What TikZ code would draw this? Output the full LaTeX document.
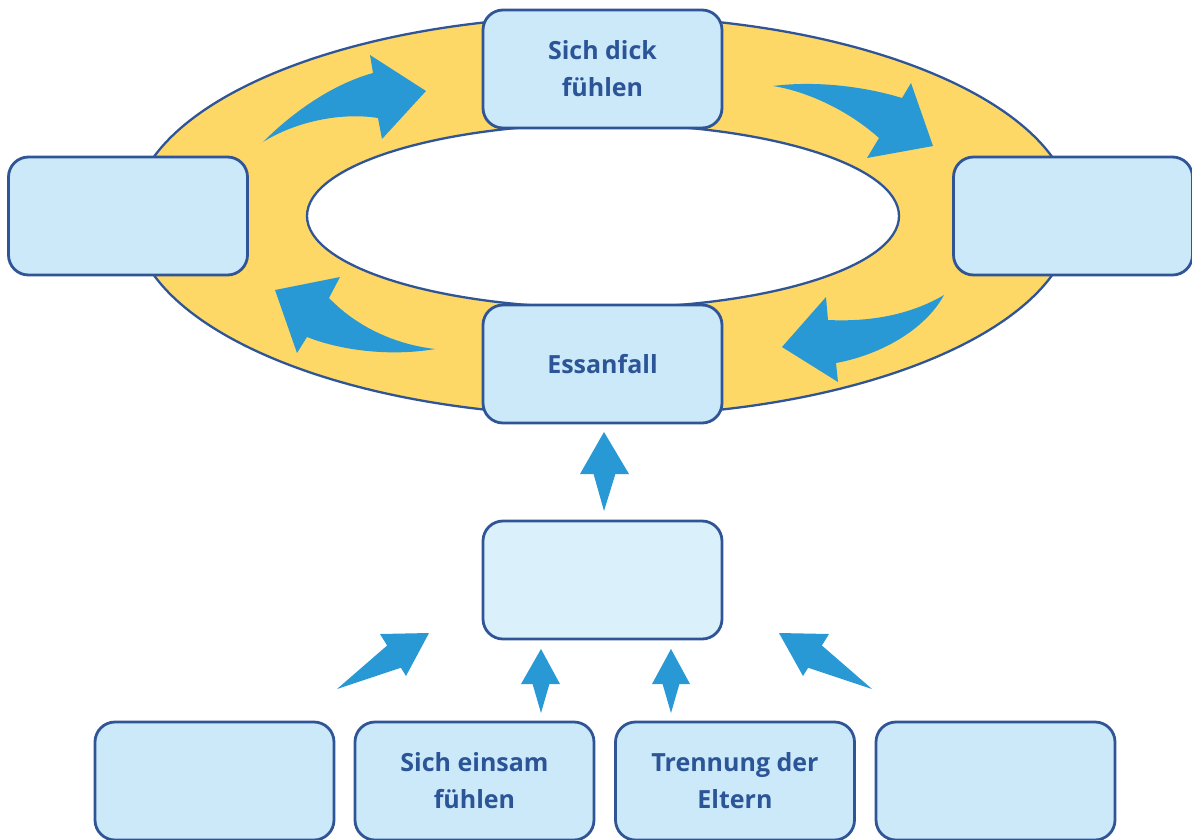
\documentclass[tikz,border=0pt]{standalone}
\usepackage{fontspec}
\setmainfont{Open Sans}
\definecolor{ring}{HTML}{FDD866}
\definecolor{edge}{HTML}{2F5597}
\definecolor{boxfill}{HTML}{CCE9F9}
\definecolor{boxlight}{HTML}{DAF0FA}
\definecolor{arrowblue}{HTML}{2899D5}
\definecolor{txt}{HTML}{2B5597}
\tikzset{
  stepbox/.style={draw=edge, line width=2.8pt, fill=boxfill, rounded corners=20pt,
    minimum width=239pt, minimum height=118pt, inner sep=0pt,
    font=\fontsize{25}{37}\selectfont\bfseries, text=txt, align=center},
  blockarrow/.style={fill=arrowblue, draw=none}
}
\begin{document}
\begin{tikzpicture}[x=1pt, y=-1pt]
\useasboundingbox (0,0) rectangle (1192,839);
% ring
\filldraw[fill=ring, draw=edge, line width=2.3pt] (603,216) ellipse [x radius=470, y radius=200];
\filldraw[fill=white, draw=edge, line width=2.3pt] (603,216) ellipse [x radius=296, y radius=92];
% curved arrows around the ring
\fill[blockarrow] (263,142) .. controls (300,105) and (340,82) .. (373,73) -- (370,55) -- (426,91)
  -- (382,139) -- (378,118) .. controls (340,112) and (295,122) .. (263,142) -- cycle;
\fill[blockarrow] (773,86) .. controls (820,80) and (870,88) .. (902,98) -- (911,83) -- (933,146)
  -- (867,158) -- (879,138) .. controls (850,112) and (810,92) .. (773,86) -- cycle;
\fill[blockarrow] (944,295) .. controls (910,315) and (870,322) .. (828,320) -- (826,297) -- (782,347)
  -- (838,382) -- (836,363) .. controls (880,355) and (925,330) .. (944,295) -- cycle;
\fill[blockarrow] (435,349) .. controls (400,345) and (360,330) .. (329,298) -- (340,277) -- (275,290)
  -- (297,353) -- (307,337) .. controls (345,352) and (395,356) .. (435,349) -- cycle;
% boxes
\node[stepbox] (top) at (602.5,69) {Sich dick\\fühlen};
\node[stepbox] (left) at (128,216) {};
\node[stepbox] (right) at (1073,216) {};
\node[stepbox] (binge) at (602.5,364) {Essanfall};
\node[stepbox, fill=boxlight] (mid) at (602.5,580) {};
\node[stepbox] (c1) at (214.5,781) {};
\node[stepbox] (c2) at (474.5,781) {Sich einsam\\fühlen};
\node[stepbox] (c3) at (735,781) {Trennung der\\Eltern};
\node[stepbox] (c4) at (995.5,781) {};
% straight arrows: head triangle plus tapered tail
\fill[blockarrow] (604,432) -- (629,474) -- (580,474) -- cycle;
\fill[blockarrow] (593,472) -- (616,472) -- (604,511) -- cycle;
\fill[blockarrow] (541,649) -- (560,684) -- (521,684) -- cycle;
\fill[blockarrow] (532,682) -- (550,682) -- (541,713) -- cycle;
\fill[blockarrow] (671,649) -- (690,684) -- (652,684) -- cycle;
\fill[blockarrow] (662,682) -- (680,682) -- (671,713) -- cycle;
\fill[blockarrow] (380,634) -- (429,633) -- (406,676) -- cycle;
\fill[blockarrow] (337,689) -- (390,643) -- (403,667) -- cycle;
\fill[blockarrow] (779,633) -- (829,634) -- (803,676) -- cycle;
\fill[blockarrow] (872,689) -- (819,643) -- (806,667) -- cycle;
\end{tikzpicture}
\end{document}
